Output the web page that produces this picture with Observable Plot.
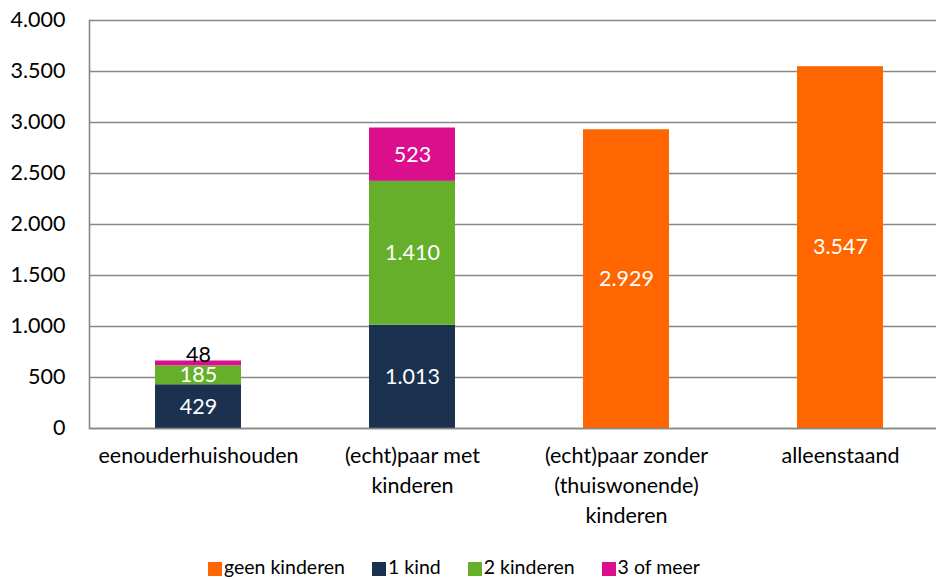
<!DOCTYPE html>
<html>
<head>
<meta charset="utf-8">
<script src="https://cdn.jsdelivr.net/npm/d3@7"></script>
<script src="https://cdn.jsdelivr.net/npm/@observablehq/plot@0.6"></script>
<style>
  html, body { margin: 0; padding: 0; background: #fff; }
  body { width: 936px; height: 580px; position: relative; overflow: hidden; font-family: Lato, sans-serif; }
  #legend { position: absolute; left: 208px; top: 556px; display: flex; align-items: center; font-size: 19.5px; line-height: 22px; color: #000; white-space: nowrap; }
  #legend .item { display: flex; align-items: center; margin-right: 27px; }
  #legend .sw { width: 14px; height: 14px; margin-right: 2px; margin-top: 3px; }
</style>
</head>
<body>
<div id="chart"></div>
<div id="legend"></div>
<script>
const categories = ["eenouderhuishouden", "(echt)paar met kinderen", "(echt)paar zonder (thuiswonende) kinderen", "alleenstaand"];
const categoryLabels = ["eenouderhuishouden", "(echt)paar met\nkinderen", "(echt)paar zonder\n(thuiswonende)\nkinderen", "alleenstaand"];
const seriesNames = ["geen kinderen", "1 kind", "2 kinderen", "3 of meer"];
const seriesColors = ["#FF6600", "#1B3150", "#66AF2B", "#DB0E8D"];
const geenKinderen = [0, 0, 2929, 3547];
const eenKind = [429, 1013, 0, 0];
const tweeKinderen = [185, 1410, 0, 0];
const drieOfMeer = [48, 523, 0, 0];
const yTicks = [0, 500, 1000, 1500, 2000, 2500, 3000, 3500, 4000];

const seriesValues = [geenKinderen, eenKind, tweeKinderen, drieOfMeer];
const data = [];
seriesNames.forEach((s, si) => {
  categories.forEach((c, ci) => {
    const v = seriesValues[si][ci];
    if (v > 0) data.push({category: c, series: s, value: v});
  });
});

const nl = d3.formatLocale({decimal: ",", thousands: ".", grouping: [3], currency: ["€", ""]});
const fmt = nl.format(",d");
const labelOf = new Map(categories.map((c, i) => [c, categoryLabels[i]]));

const font = "Lato, sans-serif";
const fs = 21.5;
const stackOpts = {x: "category", y: "value", z: "series", order: seriesNames};

const chart = Plot.plot({
  width: 936,
  height: 545,
  marginLeft: 89,
  marginRight: 0,
  marginTop: 20,
  marginBottom: 117,
  style: {fontFamily: font, fontSize: fs + "px", color: "#000", background: "#fff", overflow: "visible"},
  x: {domain: categories, range: [90, 947], paddingInner: 0.6, paddingOuter: 0.3, label: null},
  y: {domain: [0, 4000], label: null},
  color: {domain: seriesNames, range: seriesColors},
  marks: [
    Plot.ruleY(yTicks, {stroke: "#878787", strokeWidth: 1.6}),
    Plot.frame({anchor: "left", stroke: "#878787", strokeWidth: 1.6}),
    Plot.barY(data, Plot.stackY({...stackOpts, fill: "series", inset: 0})),
    Plot.ruleY([0], {stroke: "#878787", strokeWidth: 1.6}),
    Plot.text(data, Plot.stackY({...stackOpts, text: d => d.value >= 100 ? fmt(d.value) : null, fill: "white", fontSize: fs})),
    Plot.text(data, Plot.stackY({...stackOpts, text: d => d.value < 100 ? fmt(d.value) : null, fill: "black", fontSize: fs, dy: -8})),
    Plot.axisY({ticks: yTicks, tickFormat: fmt, tickSize: 0, tickPadding: 24, fontSize: fs, label: null}),
    Plot.axisX({tickSize: 0, tickPadding: 13, tickFormat: c => labelOf.get(c), lineHeight: 1.4, fontSize: fs, label: null, lineAnchor: "top"})
  ]
});
document.getElementById("chart").appendChild(chart);

const legend = document.getElementById("legend");
seriesNames.forEach((s, i) => {
  const item = document.createElement("div");
  item.className = "item";
  const sw = document.createElement("div");
  sw.className = "sw";
  sw.style.background = seriesColors[i];
  const t = document.createElement("span");
  t.textContent = s;
  item.appendChild(sw);
  item.appendChild(t);
  legend.appendChild(item);
});
</script>
</body>
</html>
